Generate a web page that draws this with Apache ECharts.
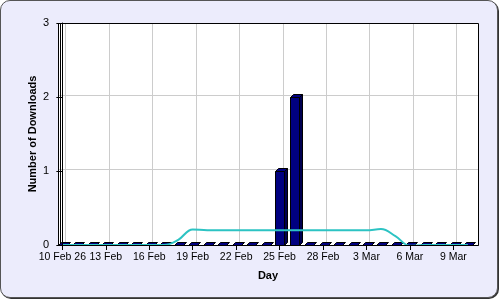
<!DOCTYPE html>
<html>
<head>
<meta charset="utf-8">
<script src="https://cdn.jsdelivr.net/npm/echarts@6/dist/echarts.min.js"></script>
<style>
  html, body { margin: 0; padding: 0; background: #ffffff; }
  #frame { position: absolute; left: 0; top: 0; width: 496px; height: 296px; border: 1px solid #555; border-radius: 10px; background: #ececfc; box-shadow: 1px 1px 0 #333; }
  #c { position: absolute; left: 0; top: 0; width: 500px; height: 300px; }
</style>
</head>
<body>
<div id="frame"></div>
<div id="c"></div>
<script>
// Days from 10 Feb 2026 to 10 Mar 2026
const categories = ['10 Feb','11 Feb','12 Feb','13 Feb','14 Feb','15 Feb','16 Feb','17 Feb','18 Feb','19 Feb',
  '20 Feb','21 Feb','22 Feb','23 Feb','24 Feb','25 Feb','26 Feb','27 Feb','28 Feb','1 Mar',
  '2 Mar','3 Mar','4 Mar','5 Mar','6 Mar','7 Mar','8 Mar','9 Mar','10 Mar'];
const downloads = [0,0,0,0,0,0,0,0,0,0, 0,0,0,0,0,1,2,0,0,0, 0,0,0,0,0,0,0,0,0];
const trend = [0,0,0,0,0,0,0,0,0.07,0.21, 0.2,0.2,0.2,0.2,0.2,0.2,0.2,0.2,0.2,0.2, 0.2,0.2,0.215,0.12,-0.01,0,0,0,0];
const tickIndex = [0,3,6,9,12,15,18,21,24,27];
const tickLabels = ['10 Feb 26','13 Feb','16 Feb','19 Feb','22 Feb','25 Feb','28 Feb','3 Mar','6 Mar','9 Mar'];
const yTicks = [0,1,2,3];

const X_MIN = -0.3, X_MAX = 28.7, Y_MIN = 0, Y_MAX = 3;
const chart = echarts.init(document.getElementById('c'), null, { renderer: 'canvas' });
const FONT = 'Liberation Sans, Arial, sans-serif';

function render3DBar(params, api) {
  const x = api.value(0), v = api.value(1);
  const p0 = api.coord([x, 0]);
  const p1 = api.coord([x, v]);
  const w = 9, d = 3;
  const l = Math.round(p0[0] - w / 2) + 0.5, r = l + w;
  const bot = Math.round(p0[1]) + 0.5, top = Math.round(p1[1]) + 0.5;
  const style = { fill: '#000080', stroke: '#000000', lineWidth: 1 };
  const children = [];
  if (bot - top > 0) {
    children.push({ type: 'rect', shape: { x: l, y: top, width: w, height: bot - top }, style: style });
    children.push({ type: 'polygon', shape: { points: [[r, top], [r + d, top - d], [r + d, bot - d], [r, bot]] },
      style: { fill: '#000050', stroke: '#000000', lineWidth: 1 } });
  }
  children.push({ type: 'polygon', shape: { points: [[l, top], [l + d, top - d], [r + d, top - d], [r, top]] }, style: style });
  return { type: 'group', children: children };
}

// Plot back wall with grid lines (3D offset), placed through the axes' own scales
function renderWall(params, api) {
  const tl = api.coord([X_MIN, Y_MAX]);
  const br = api.coord([X_MAX, Y_MIN]);
  const DX = 3, DY = -2;
  const L = Math.round(tl[0]) + 0.5, T = Math.round(tl[1]) + 0.5;
  const R = Math.round(br[0]) + 0.5, B = Math.round(br[1]) + 0.5;
  const children = [{ type: 'rect', shape: { x: L, y: T, width: R - L, height: B - T },
    style: { fill: '#ffffff', stroke: '#000000', lineWidth: 1 } }];
  tickIndex.forEach(function (t) {
    const x = Math.round(api.coord([t, 0])[0] + DX) + 0.5;
    children.push({ type: 'line', shape: { x1: x, y1: T + 0.5, x2: x, y2: B - 2 }, style: { stroke: '#cccccc', lineWidth: 1 } });
  });
  yTicks.slice(1, -1).forEach(function (t) {
    const y = Math.round(api.coord([0, t])[1] + DY) + 0.5;
    children.push({ type: 'line', shape: { x1: L + 0.5, y1: y, x2: R - 0.5, y2: y }, style: { stroke: '#cccccc', lineWidth: 1 } });
  });
  children.push({ type: 'line', shape: { x1: L + 2, y1: T + 0.5, x2: L + 2, y2: B - 2 }, style: { stroke: '#000000', lineWidth: 1 } });
  return { type: 'group', children: children };
}

chart.setOption({
  animation: false,
  backgroundColor: 'transparent',
  grid: { left: 58, width: 420, top: 23, height: 222, show: false },
  xAxis: {
    type: 'value', min: X_MIN, max: X_MAX, z: 10,
    name: 'Day', nameLocation: 'middle', nameGap: 25, nameMoveOverlap: false,
    nameTextStyle: { fontFamily: FONT, fontSize: 11, fontWeight: 'bold', color: '#000' },
    axisLine: { show: true, onZero: false, lineStyle: { color: '#000', width: 1 } },
    axisTick: { show: true, length: 5, customValues: tickIndex, lineStyle: { color: '#000' } },
    axisLabel: { customValues: tickIndex, margin: 7, fontFamily: FONT, fontSize: 10.5, color: '#000',
      formatter: function (v) { const k = tickIndex.indexOf(Math.round(v)); return k >= 0 ? tickLabels[k] : ''; } },
    splitLine: { show: false }
  },
  yAxis: {
    type: 'value', min: Y_MIN, max: Y_MAX, interval: 1, z: 10,
    name: 'Number of Downloads', nameLocation: 'middle', nameGap: 20, nameRotate: 90, nameMoveOverlap: false,
    nameTextStyle: { fontFamily: FONT, fontSize: 11, fontWeight: 'bold', color: '#000' },
    axisLine: { show: true, lineStyle: { color: '#000', width: 1 } },
    axisTick: { show: true, length: 6, lineStyle: { color: '#000' } },
    axisLabel: { margin: 9, fontFamily: FONT, fontSize: 11, color: '#000',
      formatter: function (v) { return yTicks.indexOf(v) >= 0 ? String(v) : ''; } },
    splitLine: { show: false }
  },
  series: [
    {
      type: 'custom', name: 'Wall', renderItem: renderWall, z: 1, silent: true,
      data: [[0, 0]]
    },
    {
      type: 'custom', name: 'Downloads', renderItem: render3DBar, z: 3,
      data: downloads.map(function (v, i) { return [i, v]; })
    },
    {
      type: 'line', name: 'Trend', smooth: 0.4, symbol: 'none', z: 5,
      lineStyle: { color: '#2cc3c3', width: 2 },
      data: trend.map(function (v, i) { return [i, v]; })
    }
  ]
});
</script>
</body>
</html>
